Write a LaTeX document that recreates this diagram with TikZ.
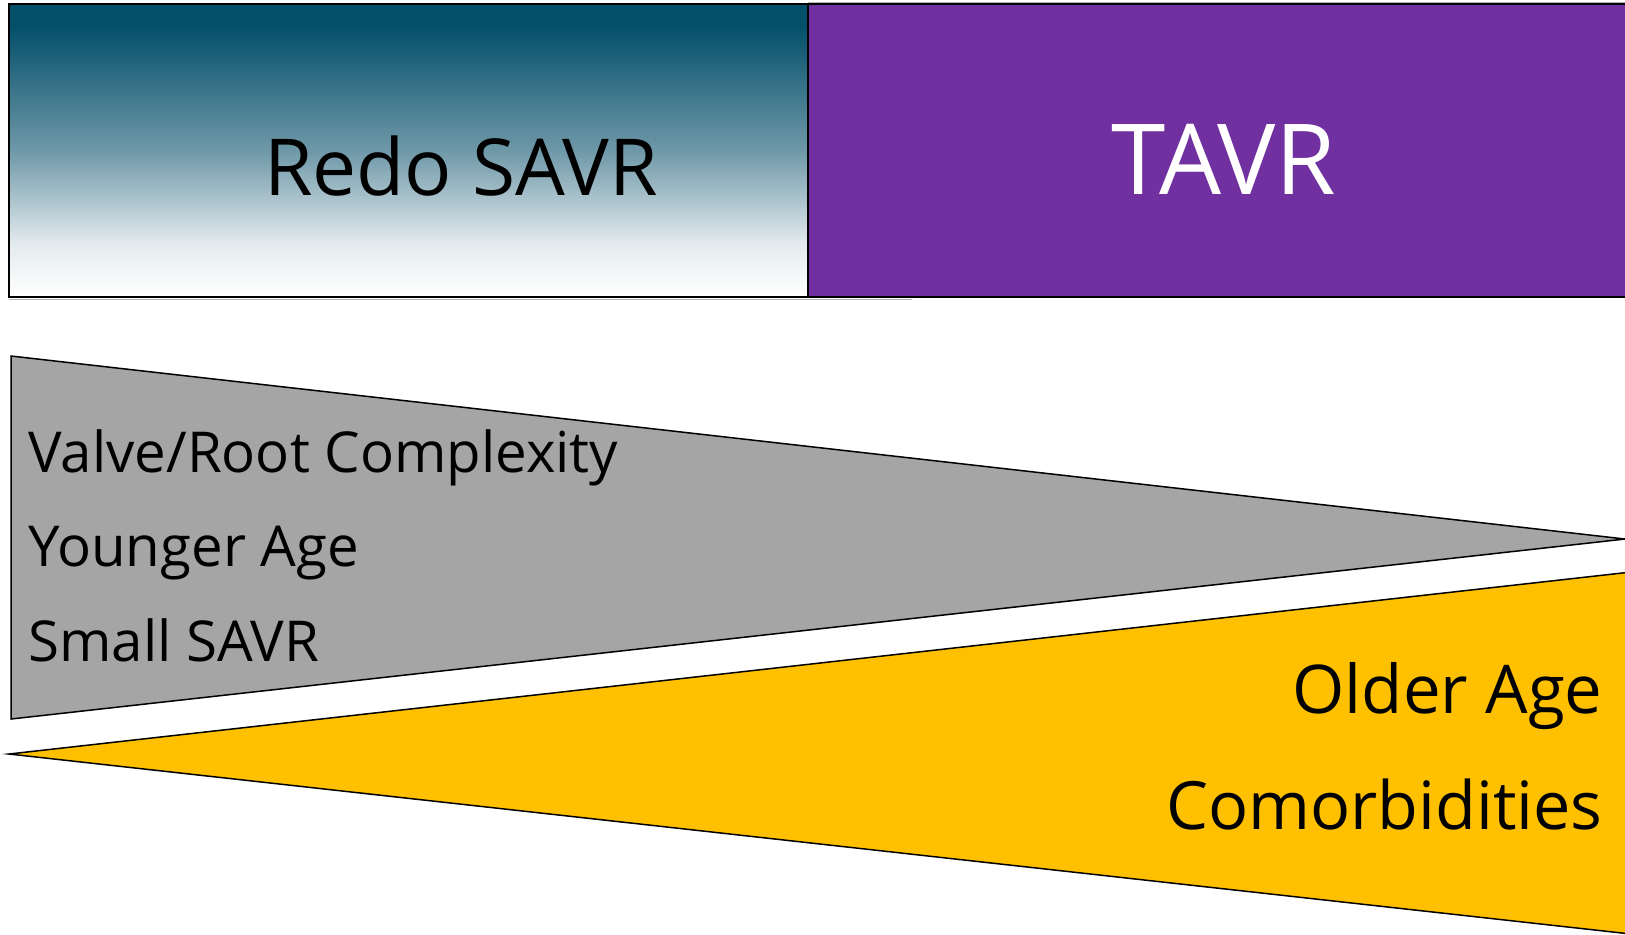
\documentclass[tikz,border=0pt]{standalone}
\usepackage{fontspec}
\setmainfont{Open Sans}
\usetikzlibrary{positioning}

\definecolor{savrteal}{RGB}{4,80,107}
\definecolor{savrmid}{RGB}{110,152,168}
\definecolor{savrpale}{RGB}{228,235,238}
\definecolor{tavrpurple}{RGB}{112,48,160}
\definecolor{wedgegray}{RGB}{165,165,165}
\definecolor{wedgeyellow}{RGB}{255,192,0}

% teal fading down to white
\pgfdeclareverticalshading{savrfade}{100bp}{%
    color(0bp)=(white); color(25bp)=(white); color(34bp)=(savrpale);
    color(50bp)=(savrmid); color(71bp)=(savrteal); color(100bp)=(savrteal)}

\begin{document}
\begin{tikzpicture}[x=0.5pt, y=-0.5pt,
        headbox/.style={
            draw=black,
            line width=1pt
        },
        wedge/.style={
            draw=black,
            line width=0.75pt
        },
        headtext/.style={
            inner sep=0pt,
            anchor=base,
            font=\fontsize{39.3}{46}\selectfont
        },
        factor/.style={
            inner sep=0pt,
            font=\fontsize{28.2}{34}\selectfont
        }
    ]

    \useasboundingbox (0,0) rectangle (1625,934);
    \clip (0,0) rectangle (1625,934);

    % the two treatment boxes
    \draw[gray!60, line width=0.5pt] (9,299) -- (912,299);
    \draw[gray!60, line width=0.5pt] (808,2) -- (1625,2);
    \draw[headbox, shading=savrfade] (9,4) rectangle (808,297);
    \draw[headbox, fill=tavrpurple] (808,4) rectangle (1640,297);

    \node[headtext]                                   (redo) at (461,195) {Redo SAVR};
    \node[headtext, text=white, font=\fontsize{49}{56}\selectfont] (tavr) at (1224,194) {TAVR};

    % wedges
    \draw[wedge, fill=wedgegray]   (11,356) -- (1625,539) -- (11,719) -- cycle;
    \draw[wedge, fill=wedgeyellow] (9,754)  -- (1640,571) -- (1640,935) -- cycle;

    \node[factor, anchor=base west] (valve)   at (28,472) {Valve/Root Complexity};
    \node[factor, anchor=base west] (younger) at (28,566) {Younger Age};
    \node[factor, anchor=base west] (small)   at (28,661) {Small SAVR};

    \node[factor, anchor=base east, font=\fontsize{33.6}{40}\selectfont] (older)  at (1603,713) {Older Age};
    \node[factor, anchor=base east, font=\fontsize{33.3}{40}\selectfont] (comorb) at (1603,829) {Comorbidities};

\end{tikzpicture}
\end{document}
